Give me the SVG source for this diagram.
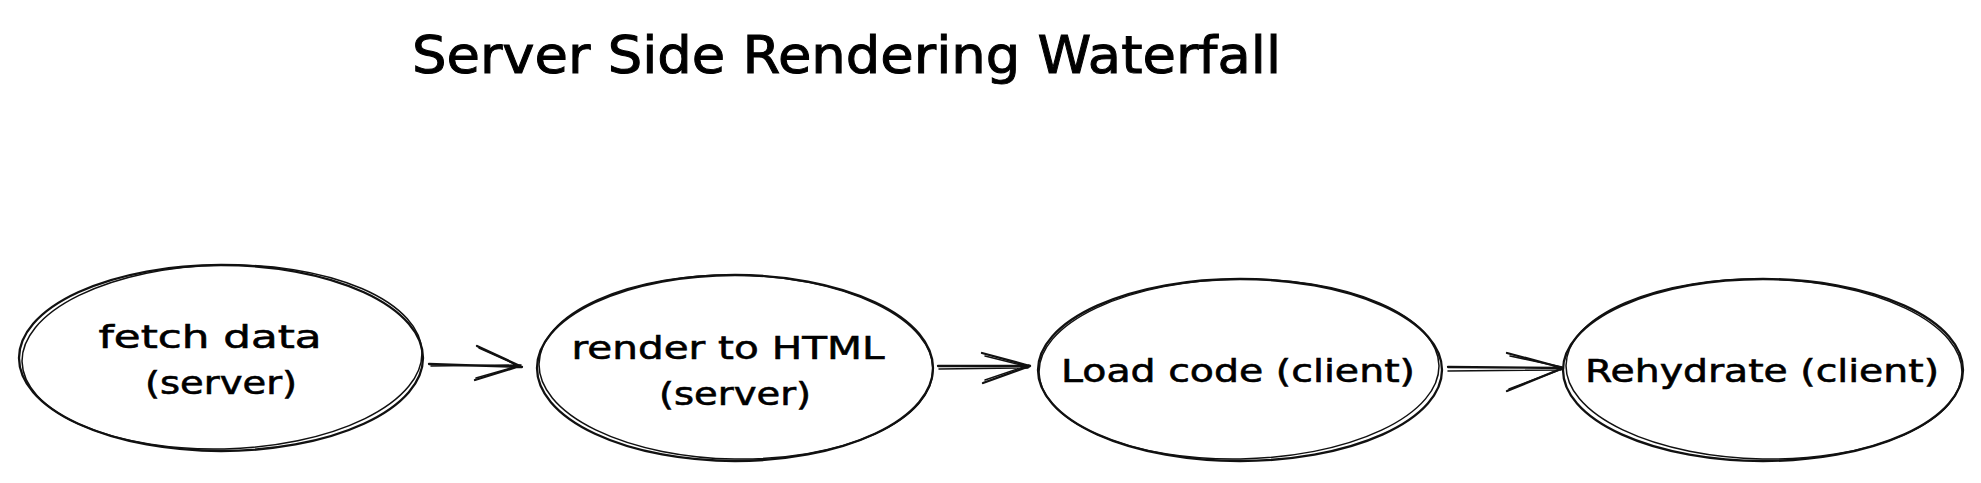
<svg xmlns="http://www.w3.org/2000/svg" width="1981" height="483" viewBox="0 0 1981 483">
  <style>
    .bg { fill: #ffffff; }
    .sk { fill: none; stroke: #111111; stroke-width: 2.3; stroke-linecap: round; stroke-linejoin: round; }
    .sk2 { fill: none; stroke: #111111; stroke-width: 1.5; stroke-linecap: round; }
    .title { font-family: "DejaVu Sans", "Liberation Sans", sans-serif; font-size: 52px; fill: #000000; stroke: #000000; stroke-width: 1; }
    .lbl { font-family: "DejaVu Sans", "Liberation Sans", sans-serif; font-size: 32px; fill: #000000; stroke: #000000; stroke-width: 0.6; text-anchor: middle; }
  </style>
  <rect class="bg" x="0" y="0" width="1981" height="483"/>

  <g id="title">
    <text class="title" x="412" y="73" textLength="869" lengthAdjust="spacingAndGlyphs">Server Side Rendering Waterfall</text>
  </g>

  <g id="node-fetch">
    <ellipse class="sk" cx="221" cy="358" rx="202" ry="93"/>
    <ellipse class="sk2" cx="222" cy="357" rx="200" ry="92" transform="rotate(-1.4 222 357)"/>
    <text class="lbl" x="210" y="348" textLength="223" lengthAdjust="spacingAndGlyphs">fetch data</text>
    <text class="lbl" x="221" y="394" textLength="152" lengthAdjust="spacingAndGlyphs">(server)</text>
  </g>

  <g id="node-render">
    <ellipse class="sk" cx="735" cy="368" rx="198" ry="93"/>
    <ellipse class="sk2" cx="736" cy="367" rx="197" ry="92" transform="rotate(0.9 736 367)"/>
    <text class="lbl" x="728" y="359" textLength="313" lengthAdjust="spacingAndGlyphs">render to HTML</text>
    <text class="lbl" x="735" y="405" textLength="152" lengthAdjust="spacingAndGlyphs">(server)</text>
  </g>

  <g id="node-load">
    <ellipse class="sk" cx="1240" cy="370" rx="202" ry="91"/>
    <ellipse class="sk2" cx="1239" cy="369" rx="200" ry="90" transform="rotate(-1 1239 369)"/>
    <text class="lbl" x="1238" y="382" textLength="354" lengthAdjust="spacingAndGlyphs">Load code (client)</text>
  </g>

  <g id="node-rehydrate">
    <ellipse class="sk" cx="1763" cy="370" rx="200" ry="91"/>
    <ellipse class="sk2" cx="1764" cy="369" rx="198" ry="90" transform="rotate(1.1 1764 369)"/>
    <text class="lbl" x="1762" y="382" textLength="354" lengthAdjust="spacingAndGlyphs">Rehydrate (client)</text>
  </g>

  <g id="connectors">
    <path class="sk" d="M429 364 L522 367 M477 346 L520 366 M475 380 L520 366"/>
    <path class="sk2" d="M431 366 L520 365 M479 348 L521 367 M476 378 L521 365"/>
    <path class="sk" d="M938 366 L1030 366 M982 353 L1030 366 M983 383 L1030 366"/>
    <path class="sk2" d="M939 369 L1028 368 M985 356 L1029 367 M985 380 L1029 365"/>
    <path class="sk" d="M1448 367 L1563 368 M1507 353 L1563 368 M1507 391 L1563 368"/>
    <path class="sk2" d="M1448 371 L1561 370 M1510 356 L1562 367 M1509 389 L1562 369"/>
  </g>
</svg>
